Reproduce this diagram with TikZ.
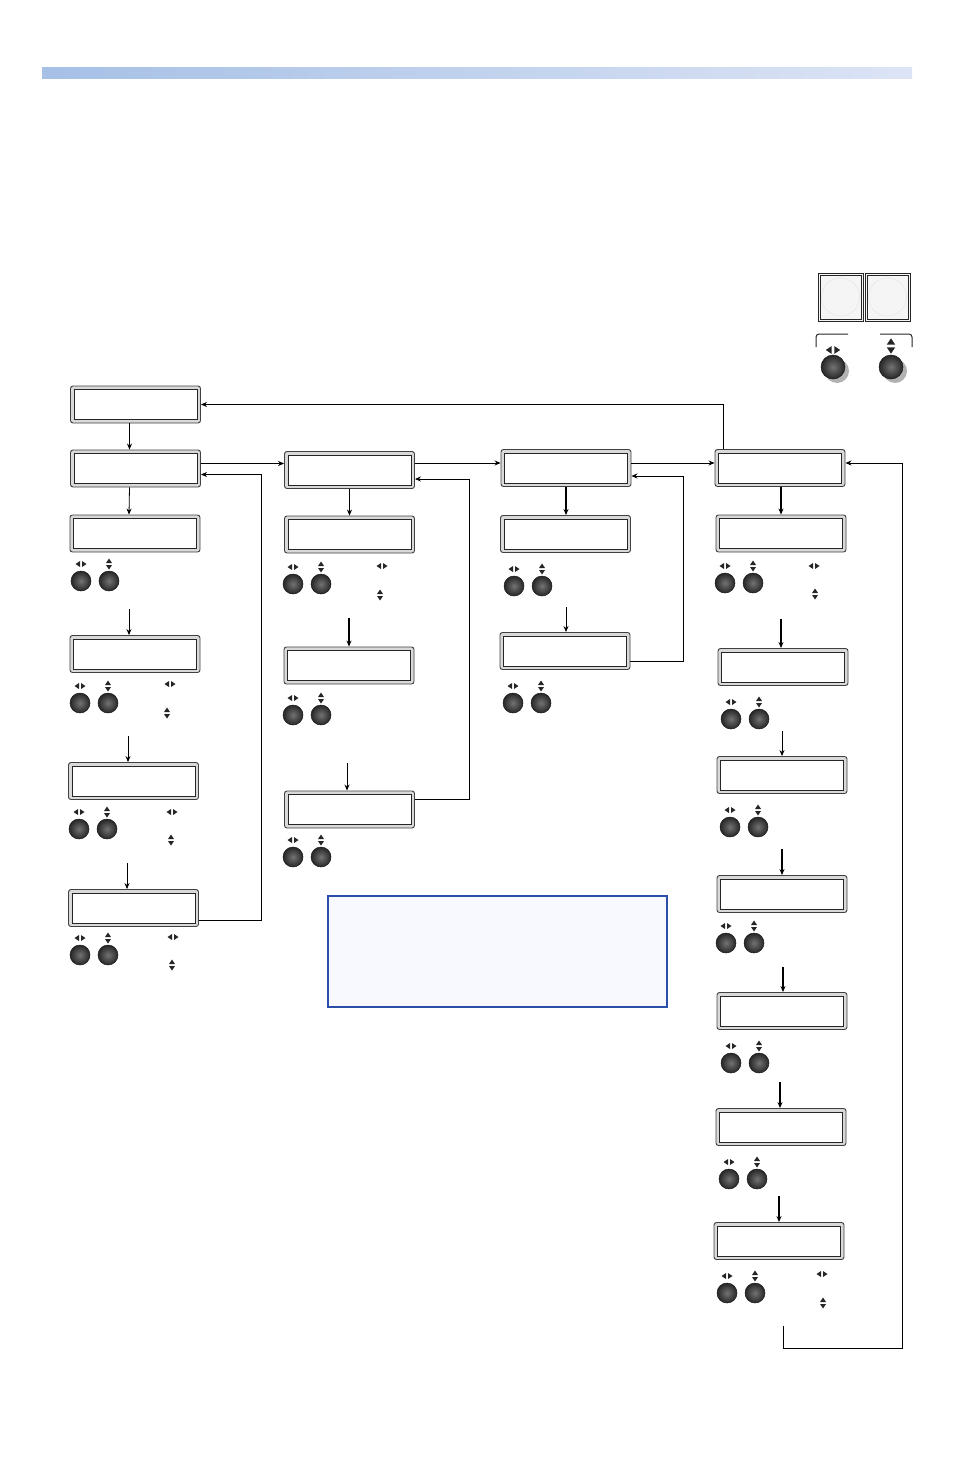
\documentclass[tikz,border=0pt]{standalone}
\usepackage{xcolor}
\usepackage{tikz}
\usetikzlibrary{shapes.geometric, arrows, arrows.meta, positioning}
\definecolor{barleft}{HTML}{A6C0E6}
\definecolor{barmid}{HTML}{D6E1F3}
\definecolor{barright}{HTML}{DCE4F5}
\definecolor{noteblue}{HTML}{2B4EA8}
\definecolor{notefill}{HTML}{F8F9FE}
\tikzstyle{lcd} = [rectangle, rounded corners=2.5pt, minimum width=130, minimum height=37, inner sep=0pt, draw=black!75, line width=0.9pt, fill=black!15,
  path picture={\draw[sharp corners, black!85, line width=0.7pt, fill=white] ([shift={(3.5pt,-3.5pt)}]path picture bounding box.north west) rectangle ([shift={(-3.5pt,3.5pt)}]path picture bounding box.south east);}]
\tikzstyle{knob} = [circle, minimum size=20, inner sep=0pt, draw=black!90, line width=0.5pt, inner color=black!55, outer color=black!85]
\tikzstyle{bigknob} = [knob, minimum size=24]
\tikzstyle{keysq} = [rectangle, minimum width=45, minimum height=48, inner sep=0pt, draw=black!85, line width=0.9pt, fill=black!4,
  path picture={\draw[black!85, line width=0.6pt] ([shift={(2pt,-2pt)}]path picture bounding box.north west) rectangle ([shift={(-2pt,2pt)}]path picture bounding box.south east);
                \draw[black!10, line width=0.5pt] (path picture bounding box.center) circle (19pt);}]
\tikzstyle{notebox} = [rectangle, minimum width=339, minimum height=111, draw=noteblue, line width=1.3pt, fill=notefill]
\tikzstyle{arrow} = [line width=0.8pt,->,>={Stealth[length=6pt,width=5pt]}]
\tikzstyle{thickarrow} = [line width=1.3pt,->,>={Stealth[length=6pt,width=5pt]}]
\tikzset{
  lr/.pic={\fill[black!85] (-1,-3) -- (-1,3) -- (-5.5,0) -- cycle (1,-3) -- (1,3) -- (5.5,0) -- cycle;},
  ud/.pic={\fill[black!85] (-3,-1) -- (3,-1) -- (0,-5.5) -- cycle (-3,1) -- (3,1) -- (0,5.5) -- cycle;}
}
\begin{document}
\begin{tikzpicture}[x=1pt, y=-1pt]
        \useasboundingbox (0,0) rectangle (954,1474);
        % Header bar
        \shade[left color=barleft, middle color=barmid, right color=barright] (42,68) rectangle (912,79);

        % Front panel legend
        \node (key1) [keysq] at (840.5,297) {};
        \node (key2) [keysq] at (887.5,297) {};
        \draw[black!85, line width=1pt, rounded corners=3] (816,347) |- (848,334);
        \draw[black!85, line width=1pt, rounded corners=3] (880,334) -| (912,347);
        \fill[black!30] (837,371) circle (12) (895,371) circle (12);
        \node (bigleft) [bigknob] at (833,367) {};
        \node (bigright) [bigknob] at (891,367) {};
        \pic[scale=1.3] at (833,350) {lr};
        \pic[scale=1.4] at (891,346) {ud};

        % Column 1
        \node (a0) [lcd] at (135.5,404.5) {};
        \node (a1) [lcd] at (135.5,468.5) {};
        \node (a2) [lcd] at (135,533.5) {};
        \node (a3) [lcd] at (135,654) {};
        \node (a4) [lcd] at (133.5,781) {};
        \node (a5) [lcd] at (133.5,908) {};
        % Column 2
        \node (b1) [lcd] at (349.5,470) {};
        \node (b2) [lcd] at (349.5,534.5) {};
        \node (b3) [lcd] at (349,665.5) {};
        \node (b4) [lcd] at (349.5,809.5) {};
        % Column 3
        \node (c1) [lcd] at (566,468) {};
        \node (c2) [lcd] at (565.5,534) {};
        \node (c3) [lcd] at (565,651) {};
        % Column 4
        \node (d1) [lcd] at (780,468) {};
        \node (d2) [lcd] at (781,533.5) {};
        \node (d3) [lcd] at (783,667) {};
        \node (d4) [lcd] at (782,775) {};
        \node (d5) [lcd] at (782,894) {};
        \node (d6) [lcd] at (782,1011) {};
        \node (d7) [lcd] at (781,1127) {};
        \node (d8) [lcd] at (779,1241) {};

        % Note
        \node (note) [notebox] at (497.5,951.5) {};

        % Knob pairs under the displays
        \foreach \k/\x/\y in {a2/81/581, a3/80/703, a4/79/829, a5/80/955, b2/293/584, b3/293/715, b4/293/857,
                              c2/514/586, c3/513/703, d2/725/583, d3/731/719, d4/730/827, d5/726/943,
                              d6/731/1063, d7/729/1179, d8/727/1293} {
            \node (\k-l) [knob] at (\x,\y) {};
            \node (\k-r) [knob] at (\x+28,\y) {};
            \pic at (\x,\y-17) {lr};
            \pic at (\x+28,\y-17) {ud};
        }
        % Loose knob marks
        \foreach \x/\y/\u/\v in {170/684/167/713, 172/812/171/840, 173/937/172/965, 382/566/380/595,
                                 814/566/815/594, 822/1274/823/1303} {
            \pic at (\x,\y) {lr};
            \pic at (\u,\v) {ud};
        }

        % Arrow starts below the knobs
        \coordinate (a3in) at (129,609);
        \coordinate (a4in) at (128,736);
        \coordinate (a5in) at (127,863);
        \coordinate (b3in) at (349,618);
        \coordinate (b4in) at (347,763);
        \coordinate (c3in) at (566,607);
        \coordinate (d3in) at (781,619);
        \coordinate (d4in) at (782,731);
        \coordinate (d5in) at (782,849);
        \coordinate (d6in) at (783,967);
        \coordinate (d7in) at (780,1082);
        \coordinate (d8in) at (779,1196);
        \coordinate (d8out) at (783,1326);

        % Arrows
        \draw [thickarrow] ([xshift=-6]a0.south) -- ([xshift=-6]a1.north);
        \draw [arrow] ([xshift=-6]a1.south) -- ([xshift=-6]a2.north);
        \draw [arrow] (a3in) -- (a3in |- a3.north);
        \draw [arrow] (a4in) -- (a4in |- a4.north);
        \draw [arrow] (a5in) -- (a5in |- a5.north);

        \draw [arrow] (b1.south) -- (b2.north);
        \draw [thickarrow] (b3in) -- (b3in |- b3.north);
        \draw [arrow] (b4in) -- (b4in |- b4.north);

        \draw [thickarrow] (c1.south) -- (c1.south |- c2.north);
        \draw [arrow] (c3in) -- (c3in |- c3.north);

        \draw [thickarrow] ([xshift=1]d1.south) -- ([xshift=1]d1.south |- d2.north);
        \draw [thickarrow] (d3in) -- (d3in |- d3.north);
        \draw [arrow] (d4in) -- (d4in |- d4.north);
        \draw [thickarrow] (d5in) -- (d5in |- d5.north);
        \draw [thickarrow] (d6in) -- (d6in |- d6.north);
        \draw [thickarrow] (d7in) -- (d7in |- d7.north);
        \draw [thickarrow] (d8in) -- (d8in |- d8.north);

        \draw [arrow] ([yshift=5]a1.east) -- ([yshift=5]a1.east -| b1.west);
        \draw [arrow] ([yshift=7]b1.east) -- ([yshift=7]b1.east -| c1.west);
        \draw [arrow] ([yshift=5]c1.east) -- ([yshift=5]c1.east -| d1.west);
        \draw [arrow] ([xshift=-57]d1.north) |- (a0.east);

        % Loop back paths
        \draw [arrow] ([yshift=-12]a5.east) -- ++(62,0) |- ([yshift=-6]a1.east);
        \draw [arrow] ([yshift=10]b4.east) -- ++(54,0) |- ([yshift=-9]b1.east);
        \draw [arrow] ([yshift=-10]c3.east) -- ++(53,0) |- ([yshift=-8]c1.east);
        \draw [arrow] (d8out) -- ++(0,22) -- ++(119,0) |- ([yshift=5]d1.east);
\end{tikzpicture}
\end{document}
